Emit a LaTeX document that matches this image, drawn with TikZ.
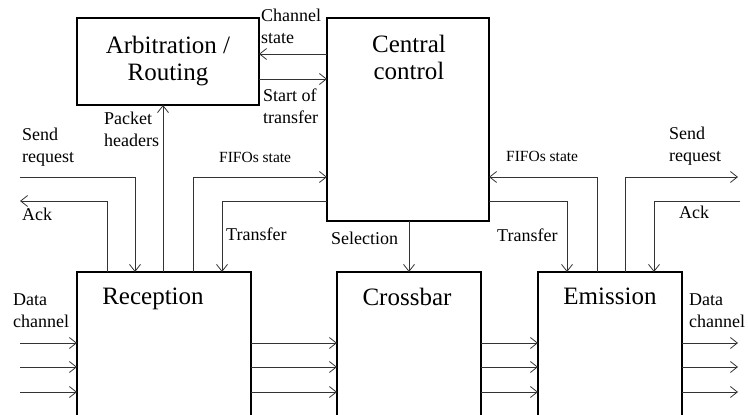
\documentclass[tikz,border=0pt]{standalone}
\usepackage{fontspec}
\setmainfont{Liberation Serif}
\usetikzlibrary{arrows.meta}
\begin{document}
\begin{tikzpicture}[x=1pt,y=-1pt,
  box/.style={draw=black,line width=1.8pt,outer sep=0pt,inner sep=0pt,anchor=north west},
  arr/.style={draw=black!80,line width=0.8pt,-{Straight Barb[length=7pt,width=11pt,line width=0.8pt]}},
  big/.style={font=\fontsize{25}{27}\selectfont,align=center,inner sep=0pt},
  lbl/.style={font=\fontsize{18}{22}\selectfont,align=left,inner sep=0pt,anchor=north west},
  sml/.style={font=\fontsize{15.5}{18}\selectfont,inner sep=0pt,anchor=north west}]
\useasboundingbox (0,0) rectangle (748,415);
% boxes
\node[box,minimum width=182pt,minimum height=87pt] (arb) at (77,18) {};
\node[box,minimum width=162pt,minimum height=203pt] (cc) at (327,18) {};
\node[box,minimum width=174pt,minimum height=160pt] (rec) at (77,272) {};
\node[box,minimum width=144pt,minimum height=160pt] (xb) at (337,272) {};
\node[box,minimum width=144pt,minimum height=160pt] (em) at (538,272) {};
% box texts
\node[big] (arbT) at (168,61) {Arbitration /\\Routing};
\node[big,anchor=north] (ccT) at (409,35) {Central\\control};
\node[big,anchor=north] (recT) at (153,288) {Reception};
\node[big,anchor=north] (xbT) at (407,288) {Crossbar};
\node[big,anchor=north] (emT) at (610,288) {Emission};
% coordinates
\coordinate (chs) at (290,54);
\coordinate (sot) at (290,79);
\coordinate (ph) at (163,150);
\coordinate (sreqS) at (20,177);
\coordinate (sreqL) at (135,177);
\coordinate (ackL) at (107,201);
\coordinate (ackE) at (20,201);
\coordinate (ffL) at (193,177);
\coordinate (trL) at (222,201);
\coordinate (sel) at (409,240);
\coordinate (ffR) at (597,177);
\coordinate (trR) at (567,201);
\coordinate (sreqR) at (625,177);
\coordinate (sreqE) at (738,177);
\coordinate (ackR) at (654,201);
\coordinate (ackS) at (740,201);
% connectors
\draw[arr] (cc.west |- chs) -- (arb.east |- chs);
\draw[arr] (arb.east |- sot) -- (cc.west |- sot);
\draw[arr] (rec.north -| ph) -- (arb.south -| ph);
\draw[arr] (sreqS) -- (sreqL) -- (rec.north -| sreqL);
\draw[arr] (rec.north -| ackL) -- (ackL) -- (ackE);
\draw[arr] (rec.north -| ffL) -- (ffL) -- (cc.west |- ffL);
\draw[arr] (cc.west |- trL) -- (trL) -- (rec.north -| trL);
\draw[arr] (cc.south -| sel) -- (xb.north -| sel);
\draw[arr] (em.north -| ffR) -- (ffR) -- (cc.east |- ffR);
\draw[arr] (cc.east |- trR) -- (trR) -- (em.north -| trR);
\draw[arr] (em.north -| sreqR) -- (sreqR) -- (sreqE);
\draw[arr] (ackS) -- (ackR) -- (em.north -| ackR);
\foreach \i/\y in {1/343,2/367,3/392}{
  \coordinate (din\i) at (20,\y);
  \coordinate (dout\i) at (738,\y);
  \draw[arr] (din\i) -- (rec.west |- din\i);
  \draw[arr] (rec.east |- din\i) -- (xb.west |- din\i);
  \draw[arr] (xb.east |- din\i) -- (em.west |- din\i);
  \draw[arr] (em.east |- din\i) -- (dout\i);
}
% labels
\node[lbl] (lchs) at (261,9) {Channel\\state};
\node[lbl] (lsot) at (263,89) {Start of\\transfer};
\node[lbl] (lph) at (104,112) {Packet\\headers};
\node[lbl] (lsreqL) at (22,128) {Send\\request};
\node[lbl] (lackL) at (22,208) {Ack};
\node[sml] (lffL) at (219,152) {FIFOs state};
\node[lbl] (ltrL) at (226,228) {Transfer};
\node[lbl] (lsel) at (331,232) {Selection};
\node[sml] (lffR) at (506,151) {FIFOs state};
\node[lbl] (ltrR) at (497,229) {Transfer};
\node[lbl] (lsreqR) at (669,127) {Send\\request};
\node[lbl] (lackR) at (679,206) {Ack};
\node[lbl] (ldinL) at (13,294) {Data\\channel};
\node[lbl] (ldinR) at (689,294) {Data\\channel};
\end{tikzpicture}
\end{document}
